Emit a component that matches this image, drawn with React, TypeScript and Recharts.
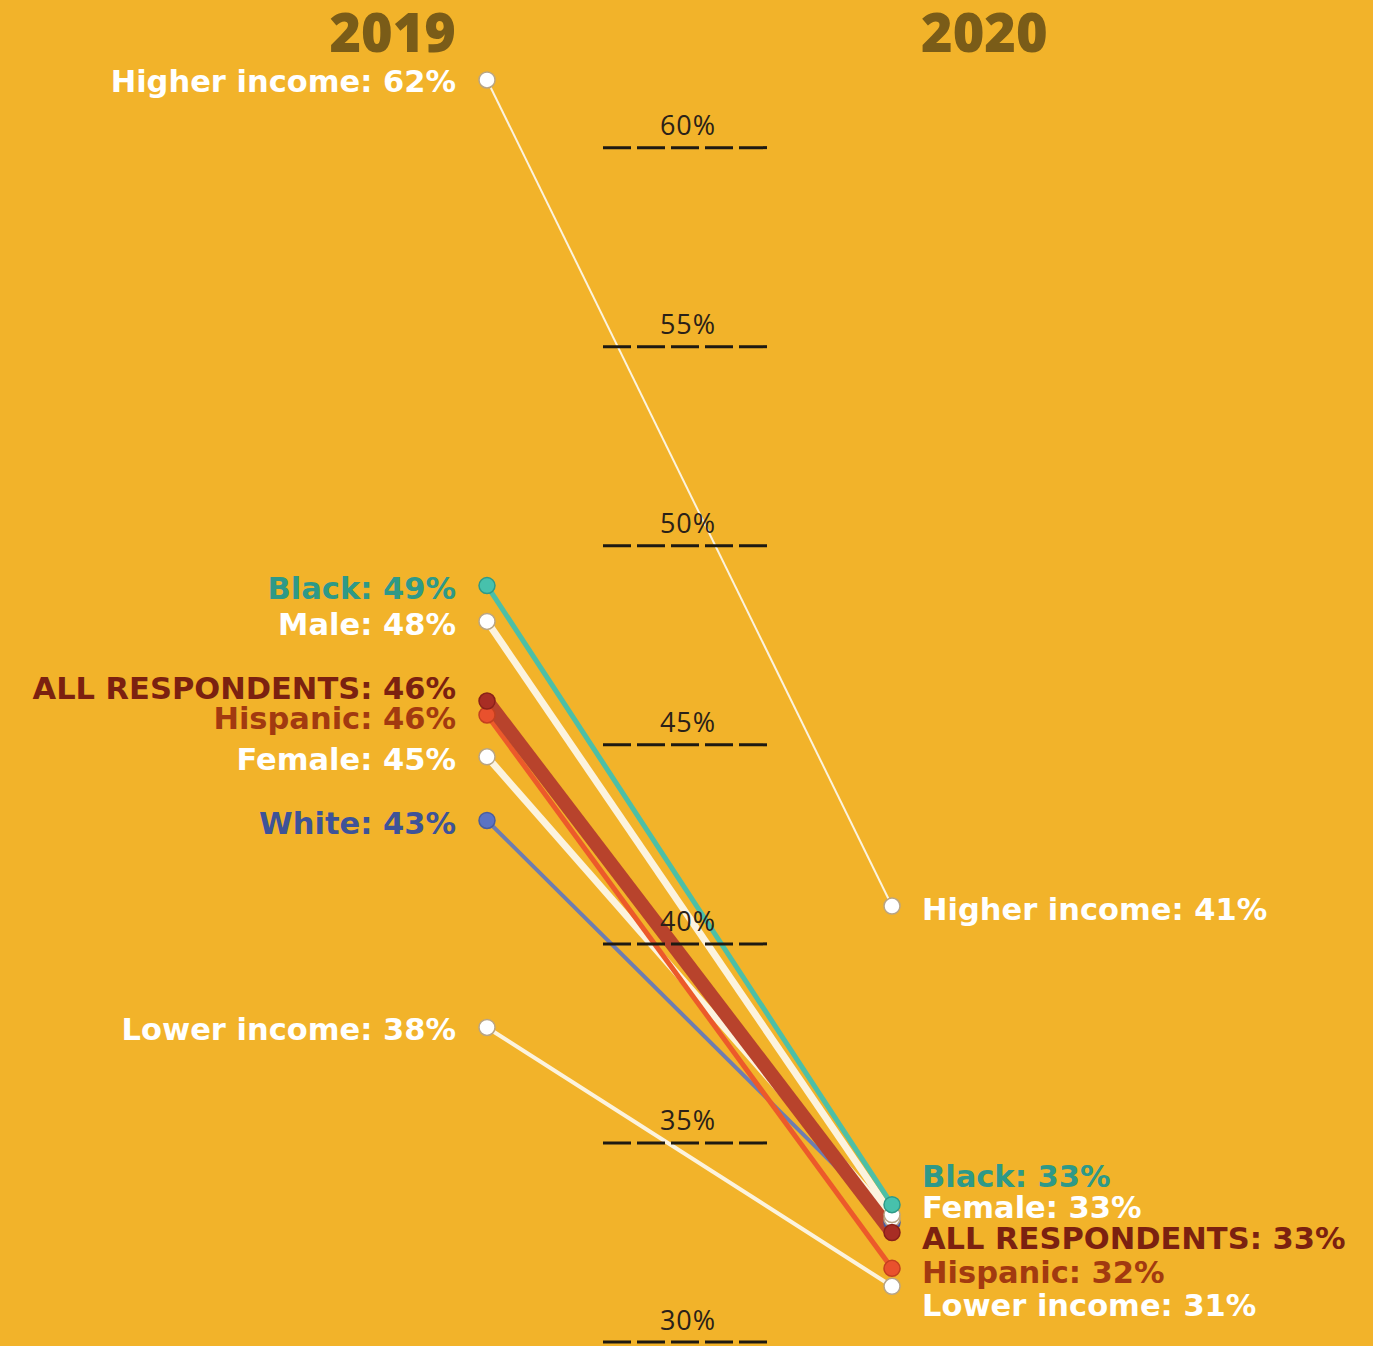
import { LineChart, Line, XAxis, YAxis } from "recharts";

const years = ["2019", "2020"];
const yTicks = [30, 35, 40, 45, 50, 55, 60];

// one value per year, [2019, 2020]
const higherIncome = [61.7, 40.95];
const black = [49.0, 33.45];
const male = [48.1, 33.2];
const allRespondents = [46.1, 32.75];
const hispanic = [45.75, 31.85];
const female = [44.7, 33.1];
const white = [43.1, 33.0];
const lowerIncome = [37.9, 31.4];

const BG = "#F2B32A";
const FONT = "'DejaVu Sans', sans-serif";

// draw order = back to front
const series = [
  { key: "lower", name: "Lower income", values: lowerIncome, line: "#FCF3DE", width: 4, dot: "#FFFFFF", dotStroke: "#B9A585", text: "#FFFFFF", dy: [2, 19] },
  { key: "higher", name: "Higher income", values: higherIncome, line: "#FCF3DE", width: 2, dot: "#FFFFFF", dotStroke: "#B9A585", text: "#FFFFFF", dy: [2, 3] },
  { key: "white", name: "White", values: white, line: "#6E7DB0", width: 4, dot: "#5B73C4", dotStroke: "#4A5E9E", text: "#3E5398", dy: [3, null] },
  { key: "female", name: "Female", values: female, line: "#FCF3DE", width: 7, dot: "#FFFFFF", dotStroke: "#B9A585", text: "#FFFFFF", dy: [3, -11] },
  { key: "male", name: "Male", values: male, line: "#FCF3DE", width: 7, dot: "#FFFFFF", dotStroke: "#B9A585", text: "#FFFFFF", dy: [3, null] },
  { key: "hispanic", name: "Hispanic", values: hispanic, line: "#EC5A2A", width: 5, dot: "#E9512D", dotStroke: "#C4401F", text: "#A23A10", dy: [4, 4] },
  { key: "all", name: "ALL RESPONDENTS", values: allRespondents, line: "#B8432C", width: 14, dot: "#A82D24", dotStroke: "#8A2119", text: "#7B2110", dy: [-13, 6] },
  { key: "black", name: "Black", values: black, line: "#4DBFA6", width: 5, dot: "#47C1AC", dotStroke: "#2F9A88", text: "#2E9988", dy: [3, -28] },
];

const rows = years.map((year, i) => {
  const row: any = { year };
  series.forEach((s) => (row[s.key] = s.values[i]));
  return row;
});

const makeLabel = (s: any) => (props: any) => {
  const { x, y, value, index } = props;
  const dy = s.dy[index];
  if (dy === null || dy === undefined) return null;
  const left = index === 0;
  return (
    <text
      x={left ? x - 31 : x + 30}
      y={y + dy}
      dominantBaseline="central"
      textAnchor={left ? "end" : "start"}
      fill={s.text}
      fontFamily={FONT}
      fontWeight={700}
      fontSize={30.5}
    >
      {`${s.name}: ${Math.round(value)}%`}
    </text>
  );
};

const YearTick = (props: any) => {
  const { x, payload, index } = props;
  const left = index === 0;
  return (
    <text
      x={left ? x - 31 : x + 29}
      y={52}
      textAnchor={left ? "end" : "start"}
      fill="#7A5C18"
      fontFamily="'Open Sans', sans-serif"
      fontWeight={800}
      fontSize={54}
    >
      {payload.value}
    </text>
  );
};

const GridTick = (props: any) => {
  const { y, payload } = props;
  return (
    <g>
      <text x={688} y={y - 23} textAnchor="middle" dominantBaseline="central" fill="#2A2118" fontFamily="'Open Sans', sans-serif" fontSize={27} letterSpacing={1}>
        {`${payload.value}%`}
      </text>
      <line x1={603} x2={770} y1={y} y2={y} stroke="#1E1A12" strokeWidth={3} strokeDasharray="28 6" />
    </g>
  );
};

export default function App() {
  return (
    <div style={{ position: "absolute", left: 0, top: 0, width: 1373, height: 1346, background: BG }}>
      <LineChart width={1373} height={1346} data={rows} margin={{ top: 67, right: 481, bottom: 4, left: 486 }}>
        {series.map((s) => (
          <Line
            key={s.key}
            dataKey={s.key}
            type="linear"
            stroke={s.line}
            strokeWidth={s.width}
            dot={{ r: 8, fill: s.dot, stroke: s.dotStroke, strokeWidth: 1.5 }}
            activeDot={false}
            label={makeLabel(s)}
            isAnimationActive={false}
          />
        ))}
        <XAxis dataKey="year" orientation="top" height={1} axisLine={false} tickLine={false} tick={YearTick} interval={0} padding={{ left: 0, right: 0 }} />
        <YAxis type="number" domain={[30, 62]} ticks={yTicks} width={1} interval={0} axisLine={false} tickLine={false} tick={GridTick} allowDataOverflow />
      </LineChart>
    </div>
  );
}
